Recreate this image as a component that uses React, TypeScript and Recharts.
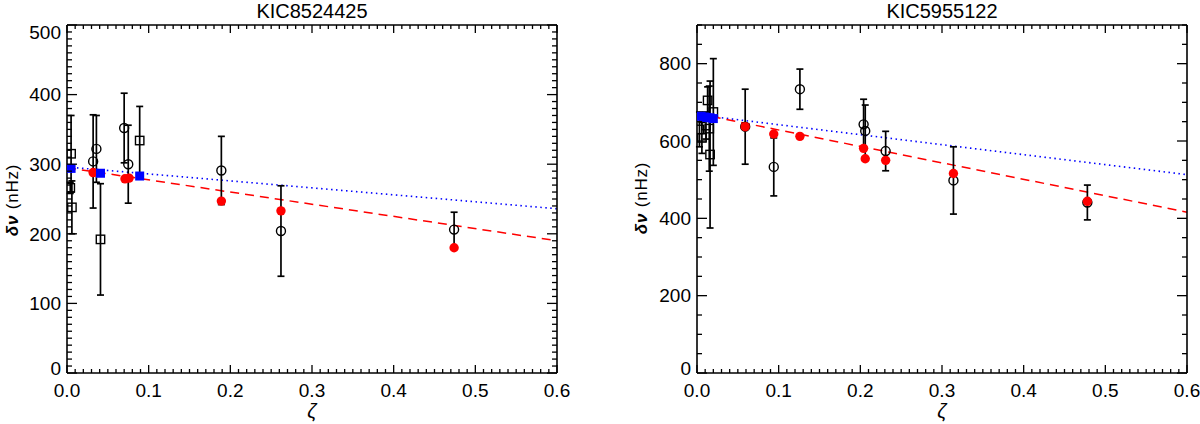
import { ComposedChart, Scatter, XAxis, YAxis, ErrorBar, ReferenceLine } from 'recharts';

const FONT = '"Liberation Sans", Arial, Helvetica, sans-serif';

// KIC8524425 (left panel)
const kic85CircleZeta = [0.032, 0.036, 0.07, 0.075, 0.189, 0.262, 0.474];
const kic85CircleNu = [304, 322, 352, 300, 291, 204, 206];
const kic85CircleErr = [67, 48, 50, 56, 49, 65, 25];
const kic85SquareZeta = [0.004, 0.005, 0.006, 0.041, 0.089];
const kic85SquareNu = [266, 315, 238, 192, 334];
const kic85SquareErr = [8, 55, 38, 80, 49];
const kic85RedZeta = [0.032, 0.071, 0.076, 0.189, 0.262, 0.474];
const kic85RedNu = [288, 279, 280, 247, 233, 180];
const kic85BlueZeta = [0.005, 0.041, 0.089];
const kic85BlueNu = [294, 287, 283];
const kic85RedFit = [295, 190]; // at zeta = 0 and 0.6
const kic85BlueFit = [296, 236];
const kic85YTicks = [0, 100, 200, 300, 400, 500];

// KIC5955122 (right panel)
const kic59CircleZeta = [0.059, 0.094, 0.126, 0.204, 0.206, 0.231, 0.314, 0.478];
const kic59CircleNu = [637, 533, 734, 643, 626, 574, 498, 441];
const kic59CircleErr = [97, 75, 52, 65, 67, 51, 87, 45];
const kic59SquareZeta = [0.003, 0.006, 0.011, 0.013, 0.015, 0.016, 0.02];
const kic59SquareNu = [630, 608, 640, 705, 632, 565, 675];
const kic59SquareErr = [45, 40, 35, 35, 110, 190, 138];
const kic59RedZeta = [0.059, 0.094, 0.126, 0.204, 0.206, 0.231, 0.314, 0.478];
const kic59RedNu = [637, 618, 612, 581, 554, 550, 516, 444];
const kic59BlueZeta = [0.005, 0.009, 0.012, 0.016, 0.02];
const kic59BlueNu = [664, 662, 661, 660, 658];
const kic59RedFit = [671, 416];
const kic59BlueFit = [668, 513];
const kic59YTicks = [0, 200, 400, 600, 800];

const xMajorTicks = [0, 0.1, 0.2, 0.3, 0.4, 0.5, 0.6];
const FIT_X = [0, 0.6];

const PLOT_TOP = 25;
const PLOT_BOTTOM = 373;

const steps = (max: number, step: number) =>
  Array.from({ length: Math.round(max / step) + 1 }, (_, i) => +(i * step).toFixed(4));

const xAllTicks = steps(0.6, 0.01);

const zip = (xs: number[], ys: number[], es?: number[]) =>
  xs.map((x, i) => ({ x, y: ys[i], err: es ? es[i] : 0 }));

const isMajor = (v: number, majors: number[]) => majors.some((m) => Math.abs(m - v) < 1e-6);

const OpenCircle = (p: any) => (
  <circle cx={p.cx} cy={p.cy} r={4.5} fill="none" stroke="#000" strokeWidth={1.4} />
);
const OpenSquare = (p: any) => (
  <rect x={p.cx - 4.2} y={p.cy - 4.2} width={8.4} height={8.4} fill="none" stroke="#000" strokeWidth={1.4} />
);
const RedDot = (p: any) => <circle cx={p.cx} cy={p.cy} r={4.7} fill="#ff0000" />;
const BlueSquare = (p: any) => (
  <rect x={p.cx - 4.5} y={p.cy - 4.5} width={9} height={9} fill="#0000ff" />
);

const xTick = (dir: number, label: boolean) => (props: any) => {
  const { x, y, payload } = props;
  const major = isMajor(payload.value, xMajorTicks);
  const len = major ? 8 : 4;
  return (
    <g>
      <line x1={x} y1={y} x2={x} y2={y + dir * len} stroke="#000" strokeWidth={1.3} />
      {label && major && (
        <text x={x} y={y + 24} textAnchor="middle" fontSize={19} fontFamily={FONT} fill="#000">
          {payload.value.toFixed(1)}
        </text>
      )}
    </g>
  );
};

const yTick = (dir: number, label: boolean, majors: number[]) => (props: any) => {
  const { x, y, payload } = props;
  const major = isMajor(payload.value, majors);
  const len = major ? 10 : 5;
  const yc = Math.min(Math.max(y, PLOT_TOP + 7), PLOT_BOTTOM - 5);
  return (
    <g>
      <line x1={x} y1={y} x2={x + dir * len} y2={y} stroke="#000" strokeWidth={1.3} />
      {label && major && (
        <text x={x - 6} y={yc + 6.8} textAnchor="end" fontSize={19} fontFamily={FONT} fill="#000">
          {payload.value}
        </text>
      )}
    </g>
  );
};

const axisLine = { stroke: '#000', strokeWidth: 1.6 };

type Pt = { x: number; y: number; err: number };

type PanelProps = {
  left: number;
  yAxisWidth: number;
  marginRight: number;
  yMax: number;
  yMinor: number;
  yMajors: number[];
  circles: Pt[];
  squares: Pt[];
  reds: Pt[];
  blues: Pt[];
  redFit: number[];
  blueFit: number[];
};

const Panel = (p: PanelProps) => {
  const yAll = steps(p.yMax, p.yMinor);
  return (
    <div style={{ position: 'absolute', left: p.left, top: 0 }}>
      <ComposedChart
        width={600}
        height={424}
        margin={{ top: PLOT_TOP - 1, right: p.marginRight - 1, bottom: 0, left: 0 }}
      >
        <XAxis
          type="number"
          dataKey="x"
          domain={[0, 0.6]}
          ticks={xAllTicks}
          interval={0}
          height={424 - PLOT_BOTTOM}
          tickSize={0}
          tickMargin={0}
          tickLine={false}
          axisLine={axisLine}
          tick={xTick(-1, true)}
          allowDataOverflow
        />
        <XAxis
          xAxisId="top"
          orientation="top"
          type="number"
          dataKey="x"
          domain={[0, 0.6]}
          ticks={xAllTicks}
          interval={0}
          height={1}
          tickSize={0}
          tickMargin={0}
          tickLine={false}
          axisLine={axisLine}
          tick={xTick(1, false)}
          allowDataOverflow
        />
        <YAxis
          type="number"
          dataKey="y"
          domain={[0, p.yMax]}
          ticks={yAll}
          interval={0}
          width={p.yAxisWidth}
          tickSize={0}
          tickMargin={0}
          tickLine={false}
          axisLine={axisLine}
          tick={yTick(1, true, p.yMajors)}
          allowDataOverflow
        />
        <YAxis
          yAxisId="right"
          orientation="right"
          type="number"
          dataKey="y"
          domain={[0, p.yMax]}
          ticks={yAll}
          interval={0}
          width={1}
          tickSize={0}
          tickMargin={0}
          tickLine={false}
          axisLine={axisLine}
          tick={yTick(-1, false, p.yMajors)}
          allowDataOverflow
        />
        <ReferenceLine
          segment={[
            { x: FIT_X[0], y: p.blueFit[0] },
            { x: FIT_X[1], y: p.blueFit[1] },
          ]}
          stroke="#0000ff"
          strokeWidth={1.6}
          strokeDasharray="1.5 3.5"
        />
        <ReferenceLine
          segment={[
            { x: FIT_X[0], y: p.redFit[0] },
            { x: FIT_X[1], y: p.redFit[1] },
          ]}
          stroke="#ff0000"
          strokeWidth={1.5}
          strokeDasharray="9 6"
        />
        <Scatter data={p.squares} shape={OpenSquare} isAnimationActive={false}>
          <ErrorBar dataKey="err" direction="y" width={3.5} stroke="#000" strokeWidth={1.7} />
        </Scatter>
        <Scatter data={p.circles} shape={OpenCircle} isAnimationActive={false}>
          <ErrorBar dataKey="err" direction="y" width={3.5} stroke="#000" strokeWidth={1.7} />
        </Scatter>
        <Scatter data={p.reds} shape={RedDot} isAnimationActive={false} />
        <Scatter data={p.blues} shape={BlueSquare} isAnimationActive={false} />
      </ComposedChart>
    </div>
  );
};

const Labels = () => (
  <svg
    width={1200}
    height={424}
    style={{ position: 'absolute', left: 0, top: 0, pointerEvents: 'none' }}
    fontFamily={FONT}
  >
    <text x={312} y={18} textAnchor="middle" fontSize={20}>KIC8524425</text>
    <text x={942} y={18} textAnchor="middle" fontSize={20}>KIC5955122</text>
    <text x={312} y={418} textAnchor="middle" fontSize={20} fontStyle="italic">ζ</text>
    <text x={942} y={418} textAnchor="middle" fontSize={20} fontStyle="italic">ζ</text>
    <text x={18} y={200} textAnchor="middle" fontSize={17} letterSpacing={0.8} transform="rotate(-90 18 200)">
      <tspan fontWeight="bold" fontStyle="italic">δν</tspan> (nHz)
    </text>
    <text x={647} y={198} textAnchor="middle" fontSize={17} letterSpacing={0.8} transform="rotate(-90 647 198)">
      <tspan fontWeight="bold" fontStyle="italic">δν</tspan> (nHz)
    </text>
  </svg>
);

export default function App() {
  return (
    <div
      style={{
        position: 'absolute',
        left: 0,
        top: 0,
        width: 1200,
        height: 424,
        background: '#fff',
        overflow: 'hidden',
      }}
    >
      <Panel
        left={0}
        yAxisWidth={67}
        marginRight={43}
        yMax={500}
        yMinor={10}
        yMajors={kic85YTicks}
        circles={zip(kic85CircleZeta, kic85CircleNu, kic85CircleErr)}
        squares={zip(kic85SquareZeta, kic85SquareNu, kic85SquareErr)}
        reds={zip(kic85RedZeta, kic85RedNu)}
        blues={zip(kic85BlueZeta, kic85BlueNu)}
        redFit={kic85RedFit}
        blueFit={kic85BlueFit}
      />
      <Panel
        left={600}
        yAxisWidth={97}
        marginRight={13}
        yMax={900}
        yMinor={50}
        yMajors={kic59YTicks}
        circles={zip(kic59CircleZeta, kic59CircleNu, kic59CircleErr)}
        squares={zip(kic59SquareZeta, kic59SquareNu, kic59SquareErr)}
        reds={zip(kic59RedZeta, kic59RedNu)}
        blues={zip(kic59BlueZeta, kic59BlueNu)}
        redFit={kic59RedFit}
        blueFit={kic59BlueFit}
      />
      <Labels />
    </div>
  );
}
